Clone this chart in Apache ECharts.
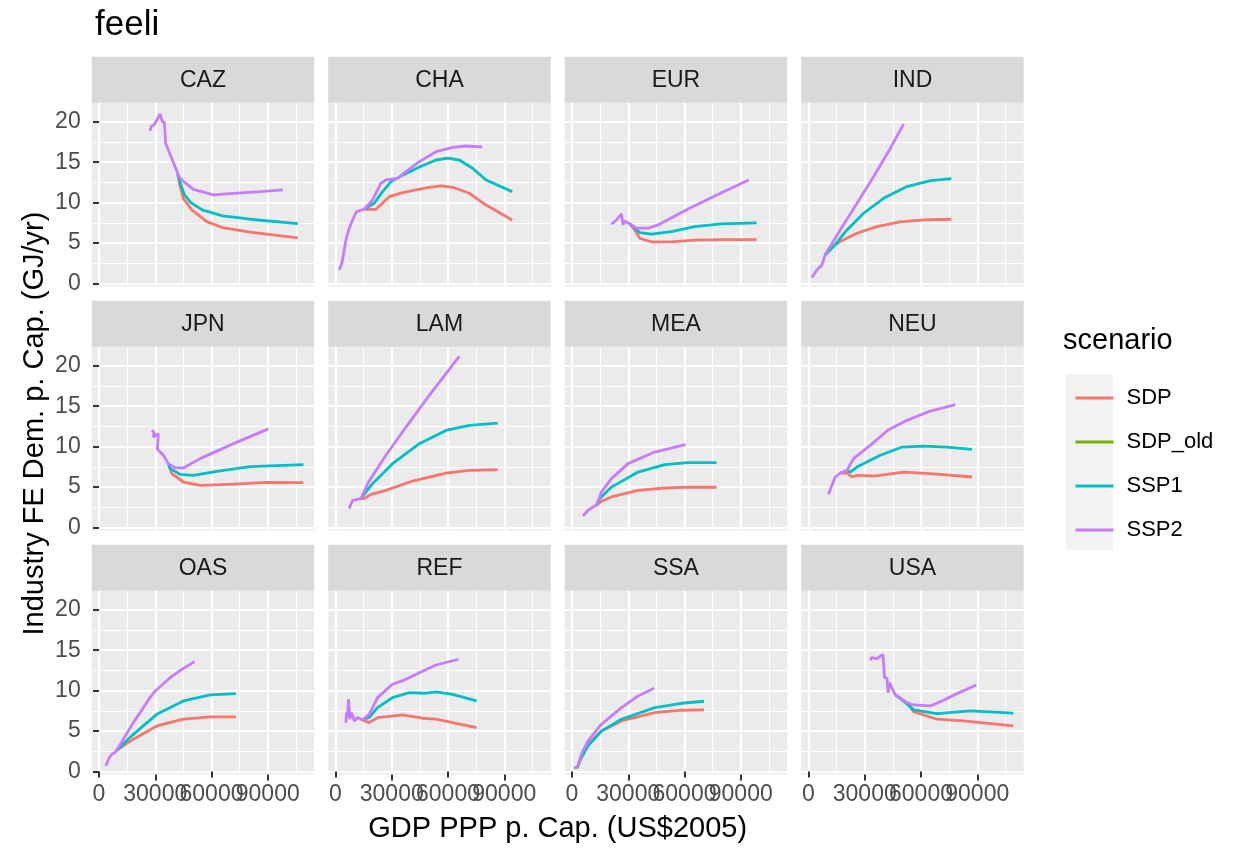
<!DOCTYPE html>
<html><head><meta charset="utf-8">
<script src="https://cdn.jsdelivr.net/npm/echarts@6/dist/echarts.min.js"></script>
<style>html,body{margin:0;padding:0;background:#fff}#c{width:1233px;height:852px}</style>
</head><body><div id="c"></div>
<script>
const regions = ['CAZ','CHA','EUR','IND','JPN','LAM','MEA','NEU','OAS','REF','SSA','USA'];
const scenarios = ['SDP','SDP_old','SSP1','SSP2'];
const scenarioColors = ['#F8766D','#7CAE00','#00BFC4','#C77CFF'];
const xTicksA = [0,60000];
const xTicksB = [30000,90000];
const xMinor = [15000,45000,75000,105000];
const yTicks = [0,5,10,15,20];
const yMinor = [2.5,7.5,12.5,17.5];

const CAZ_SDP  = [[42000,13.5],[43230,12.0],[45000,10.5],[49480,9.1],[57500,7.65],[66000,6.9],[80600,6.35],[106000,5.65]];
const CAZ_SSP1 = [[42000,13.5],[43500,12.3],[45500,11.0],[49000,10.0],[55000,9.1],[66000,8.36],[80600,7.95],[106000,7.4]];
const CAZ_SSP2 = [[27060,18.9],[28130,19.5],[29360,19.6],[32560,20.95],[33800,20.0],[34870,19.9],[35600,17.25],[36130,17.0],[42700,13.2],[44150,12.8],[50350,11.65],[61000,10.95],[71700,11.15],[85900,11.36],[98050,11.57]];

const CHA_SDP  = [[15300,9.18],[21560,9.18],[28660,10.74],[35760,11.23],[42900,11.57],[50000,11.9],[56260,12.06],[62500,11.9],[71400,11.16],[80300,9.7],[94200,7.86]];
const CHA_SSP1 = [[15300,9.18],[20660,9.93],[25100,11.36],[29600,12.6],[35800,13.4],[44700,14.4],[53600,15.27],[59800,15.5],[66000,15.27],[73100,14.25],[80300,12.8],[94200,11.36]];
const CHA_SSP2 = [[1975,1.69],[3400,2.5],[4640,4.16],[5550,5.4],[7310,6.83],[9100,7.86],[11200,8.9],[15300,9.18],[19750,10.33],[24240,12.4],[26900,12.8],[33100,13.0],[37600,13.83],[44700,15.06],[53600,16.3],[62500,16.84],[69600,17.0],[78200,16.9]];

const EUR_SDP  = [[30800,7.37],[33500,6.63],[36140,5.6],[42400,5.15],[53000,5.15],[65500,5.36],[79700,5.43],[98400,5.43]];
const EUR_SSP1 = [[30800,7.37],[32600,7.04],[36140,6.3],[42400,6.1],[53000,6.42],[65500,7.04],[79700,7.37],[98400,7.49]];
const EUR_SSP2 = [[21000,7.33],[23700,7.86],[26400,8.6],[27200,7.25],[28130,7.74],[30800,7.37],[34400,6.84],[40600,6.84],[45900,7.25],[61900,9.22],[79700,11.23],[94300,12.8]];

const IND_SDP  = [[8900,3.54],[11600,4.37],[16900,5.19],[25800,6.22],[36500,7.04],[48900,7.62],[61400,7.86],[76200,7.95]];
const IND_SSP1 = [[8900,3.54],[13350,4.57],[20500,6.63],[29400,8.69],[40000,10.54],[52500,11.98],[65000,12.72],[76200,12.96]];
const IND_SSP2 = [[1800,0.74],[4480,1.69],[7150,2.3],[8900,3.54],[16900,6.63],[25800,9.9],[34700,13.2],[43600,16.7],[50700,19.7]];

const JPN_SDP  = [[36990,7.9],[38800,6.67],[45000,5.63],[53900,5.22],[71700,5.38],[89500,5.59],[109000,5.55]];
const JPN_SSP1 = [[36990,7.9],[37900,7.28],[43230,6.58],[50350,6.46],[62800,6.95],[80600,7.53],[109000,7.78]];
const JPN_SSP2 = [[28130,12.0],[29360,11.8],[28980,11.19],[31650,11.6],[31120,9.67],[34320,8.93],[36990,7.9],[40570,7.4],[45000,7.36],[53900,8.52],[71700,10.37],[90370,12.2]];

const LAM_SDP  = [[13550,3.58],[15300,3.58],[18900,4.11],[26900,4.6],[41100,5.75],[58900,6.74],[71400,7.07],[86500,7.16]];
const LAM_SSP1 = [[13550,3.58],[16230,4.4],[19750,5.43],[30400,7.9],[44700,10.37],[58900,12.0],[71400,12.63],[86500,12.91]];
const LAM_SSP2 = [[7310,2.35],[9100,3.37],[13550,3.58],[17600,5.63],[26900,8.93],[37600,12.42],[50000,16.33],[66000,21.15]];

const MEA_SDP  = [[13020,2.75],[15700,3.25],[21030,3.78],[35200,4.6],[49500,4.89],[61900,5.0],[77100,4.98]];
const MEA_SSP1 = [[13020,2.75],[14800,3.58],[21030,5.0],[35200,6.86],[49500,7.78],[61900,8.02],[77100,8.02]];
const MEA_SSP2 = [[5870,1.43],[8540,2.14],[11200,2.54],[13020,2.75],[15700,4.4],[21030,6.05],[29900,7.9],[44100,9.33],[60500,10.25]];

const NEU_SDP  = [[16900,6.74],[20500,6.74],[23150,6.25],[25800,6.46],[34700,6.37],[50700,6.86],[65000,6.67],[87200,6.25]];
const NEU_SSP1 = [[20500,7.07],[22260,6.86],[25800,7.48],[38300,8.93],[49900,9.95],[61400,10.07],[73900,9.95],[87200,9.67]];
const NEU_SSP2 = [[10680,4.11],[12490,5.22],[14250,6.25],[15160,6.46],[16900,6.74],[20500,7.07],[24000,8.52],[32900,10.16],[42700,12.1],[52500,13.25],[65000,14.4],[78300,15.2]];

const OAS_SDP  = [[9500,2.65],[18300,4.0],[30800,5.64],[45000,6.47],[59250,6.75],[73000,6.75]];
const OAS_SSP1 = [[9500,2.65],[18300,4.6],[30800,7.07],[45000,8.73],[59250,9.47],[73000,9.63]];
const OAS_SSP2 = [[3740,0.7],[4980,1.53],[6760,2.15],[8540,2.35],[9500,2.65],[13500,4.2],[18300,6.05],[22500,7.5],[27200,9.14],[30000,9.96],[37900,11.6],[44000,12.6],[50900,13.58]];

const REF_SDP  = [[14410,6.38],[17990,6.05],[22420,6.67],[35760,7.0],[46440,6.59],[53600,6.47],[62450,6.05],[75270,5.43]];
const REF_SSP1 = [[14410,6.38],[17990,6.7],[22420,7.9],[30400,9.14],[39340,9.75],[48250,9.68],[53600,9.84],[62450,9.55],[75270,8.73]];
const REF_SSP2 = [[5550,6.05],[5870,7.3],[6400,6.67],[6940,8.94],[7670,6.47],[8540,7.28],[9980,6.26],[11740,6.67],[14410,6.38],[17990,7.08],[22420,9.14],[30400,10.79],[37580,11.4],[44680,12.22],[53600,13.17],[65650,13.88]];

const SSA_SDP  = [[2880,0.49],[5000,1.9],[8540,3.37],[15700,5.0],[26370,6.26],[44150,7.28],[58400,7.58],[70460,7.62]];
const SSA_SSP1 = [[2880,0.49],[4110,1.32],[8540,3.17],[15700,5.0],[26370,6.46],[44150,7.9],[58400,8.44],[70460,8.69]];
const SSA_SSP2 = [[1070,0.49],[2880,0.49],[5020,2.15],[8540,3.79],[15700,5.85],[26370,7.9],[35230,9.35],[43770,10.3]];

const USA_SDP  = [[46280,9.47],[53380,8.32],[56050,7.4],[68500,6.47],[82700,6.26],[109200,5.64]];
const USA_SSP1 = [[46280,9.47],[50700,8.73],[56050,7.62],[68500,7.16],[86300,7.49],[109200,7.21]];
const USA_SSP2 = [[32920,13.75],[33460,14.07],[36500,13.95],[37370,14.16],[39700,14.49],[40570,11.6],[41850,11.53],[42380,9.75],[43240,10.99],[46280,9.47],[52530,8.52],[56050,8.23],[64960,8.11],[70300,8.64],[79200,9.63],[89520,10.7]];

const seriesData = {
  CAZ:[CAZ_SDP,[],CAZ_SSP1,CAZ_SSP2], CHA:[CHA_SDP,[],CHA_SSP1,CHA_SSP2],
  EUR:[EUR_SDP,[],EUR_SSP1,EUR_SSP2], IND:[IND_SDP,[],IND_SSP1,IND_SSP2],
  JPN:[JPN_SDP,[],JPN_SSP1,JPN_SSP2], LAM:[LAM_SDP,[],LAM_SSP1,LAM_SSP2],
  MEA:[MEA_SDP,[],MEA_SSP1,MEA_SSP2], NEU:[NEU_SDP,[],NEU_SSP1,NEU_SSP2],
  OAS:[OAS_SDP,[],OAS_SSP1,OAS_SSP2], REF:[REF_SDP,[],REF_SSP1,REF_SSP2],
  SSA:[SSA_SDP,[],SSA_SSP1,SSA_SSP2], USA:[USA_SDP,[],USA_SSP1,USA_SSP2]
};

const FONT = '"Liberation Sans", Arial, Helvetica, sans-serif';
const XMIN = -3900, XMAX = 114770, YMIN = -0.35, YMAX = 22.35;
const PL = 91.7, PW = 222.5, PSTEP = 236.5;
const PT = 102.7, PH = 183.7, RSTEP = 244, STRIP = 46;

const chart = echarts.init(document.getElementById('c'), null, {renderer:'canvas'});
const grids = [], xAxes = [], yAxes = [], series = [], graphics = [];

function majorX(i, show, vals) {
  return {type: 'value', gridIndex: i, min: XMIN, max: XMAX, position: 'bottom',
    axisLine: {show: false},
    axisTick: {show: show, customValues: vals, length: 6, lineStyle: {color: '#333333', width: 2}},
    axisLabel: {show: show, customValues: vals, color: '#4D4D4D', fontSize: 23, fontFamily: FONT, margin: 9,
      hideOverlap: false, formatter: v => String(v)},
    splitLine: {show: true, lineStyle: {color: '#FFFFFF', width: 2.2}}};
}

regions.forEach((reg, i) => {
  const r = Math.floor(i / 4), c = i % 4;
  const left = PL + c * PSTEP, top = PT + r * RSTEP;
  grids.push({left: left, top: top, width: PW, height: PH, show: true,
    backgroundColor: '#EBEBEB', borderWidth: 0, containLabel: false});
  graphics.push({type: 'rect', shape: {x: left, y: top - STRIP, width: PW, height: STRIP},
    style: {fill: '#D9D9D9'}, silent: true});
  graphics.push({type: 'text', x: left + PW / 2, y: top - STRIP / 2 + 1,
    style: {text: reg, fill: '#1A1A1A', font: '23px ' + FONT, textAlign: 'center', textVerticalAlign: 'middle'}});
  const bottomRow = r === 2, firstCol = c === 0;
  xAxes.push({type: 'value', gridIndex: i, min: XMIN, max: XMAX, position: 'bottom',
    axisLine: {show: false}, axisTick: {show: false, customValues: xMinor},
    axisLabel: {show: false, customValues: xMinor},
    splitLine: {show: true, lineStyle: {color: '#FFFFFF', width: 1.1}}});
  xAxes.push(majorX(i, bottomRow, xTicksA));
  xAxes.push(majorX(i, bottomRow, xTicksB));
  yAxes.push({type: 'value', gridIndex: i, min: YMIN, max: YMAX, position: 'left',
    axisLine: {show: false}, axisTick: {show: false, customValues: yMinor},
    axisLabel: {show: false, customValues: yMinor},
    splitLine: {show: true, lineStyle: {color: '#FFFFFF', width: 1.1}}});
  yAxes.push({type: 'value', gridIndex: i, min: YMIN, max: YMAX, position: 'left',
    axisLine: {show: false},
    axisTick: {show: firstCol, customValues: yTicks, length: 6, lineStyle: {color: '#333333', width: 2}},
    axisLabel: {show: firstCol, customValues: yTicks, color: '#4D4D4D', fontSize: 23, fontFamily: FONT, margin: 11,
      hideOverlap: false, formatter: v => String(v)},
    splitLine: {show: true, lineStyle: {color: '#FFFFFF', width: 2.2}}});
  scenarios.forEach((sc, k) => {
    series.push({type: 'line', name: sc, xAxisIndex: 3 * i + 1, yAxisIndex: 2 * i + 1,
      data: seriesData[reg][k], showSymbol: false, symbol: 'none', clip: true,
      lineStyle: {color: scenarioColors[k], width: 2.8}, itemStyle: {color: scenarioColors[k]},
      emphasis: {disabled: true}, z: 3 + k});
  });
});

graphics.push({type: 'rect', shape: {x: 1066, y: 374, width: 47, height: 176}, style: {fill: '#F2F2F2'}, silent: true, z: -1});
graphics.push({type: 'text', x: PL + (3 * PSTEP + PW) / 2, y: 829,
  style: {text: 'GDP PPP p. Cap. (US$2005)', fill: '#000', font: '29px ' + FONT, textAlign: 'center', textVerticalAlign: 'middle'}});
graphics.push({type: 'text', x: 35, y: (PT - STRIP + PT + 2 * RSTEP + PH) / 2 + 8, rotation: Math.PI / 2,
  style: {text: 'Industry FE Dem. p. Cap. (GJ/yr)', fill: '#000', font: '29px ' + FONT, textAlign: 'center', textVerticalAlign: 'middle'}});
graphics.push({type: 'text', x: 1063, y: 341,
  style: {text: 'scenario', fill: '#000', font: '29px ' + FONT, textAlign: 'left', textVerticalAlign: 'middle'}});

chart.setOption({
  animation: false,
  backgroundColor: '#FFFFFF',
  title: {text: 'feeli', left: 90, top: 3, textStyle: {fontSize: 35, fontWeight: 'normal', color: '#000', fontFamily: FONT}},
  legend: {data: scenarios, orient: 'vertical', left: 1070.5, top: 382, icon: 'rect', itemWidth: 38, itemHeight: 3,
    itemGap: 22, textStyle: {fontSize: 22, color: '#000', fontFamily: FONT, padding: [0, 0, 0, 8]},
    selectedMode: false},
  grid: grids, xAxis: xAxes, yAxis: yAxes, series: series, graphic: graphics
});
</script></body></html>
